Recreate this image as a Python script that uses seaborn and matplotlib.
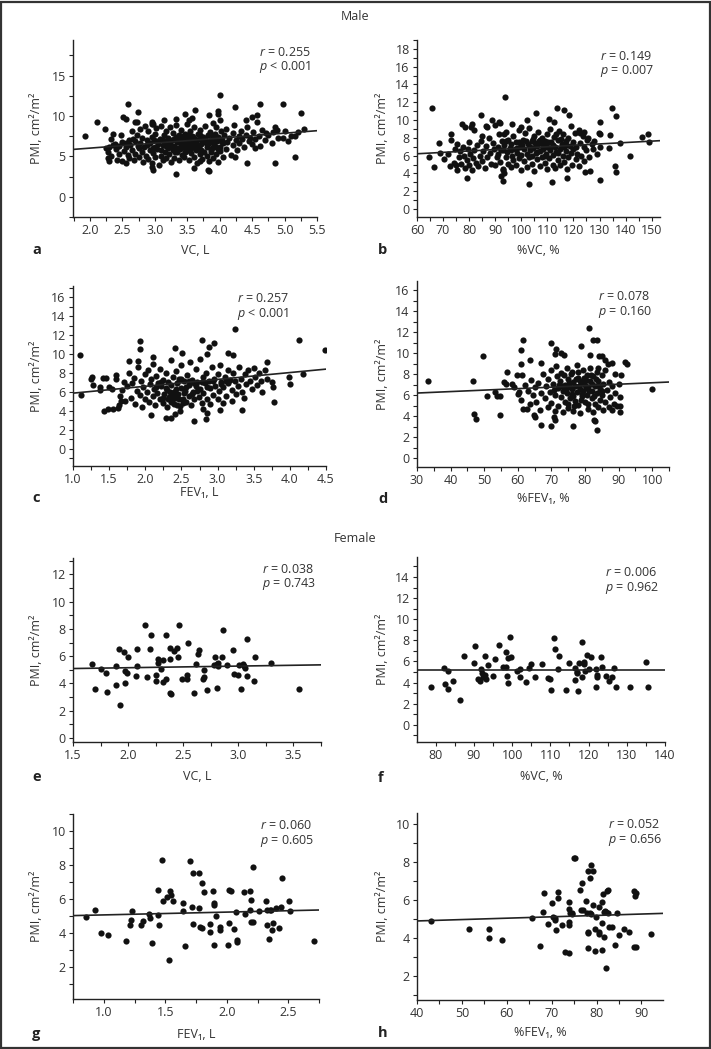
import pandas as pd
import matplotlib.pyplot as plt
import seaborn as sns
from matplotlib.patches import Rectangle
from matplotlib.ticker import MultipleLocator

sns.set_style("ticks")
plt.rcParams['font.family'] = ['Open Sans', 'DejaVu Sans']
plt.rcParams['mathtext.fontset'] = 'custom'
plt.rcParams['mathtext.it'] = 'Open Sans:italic'
plt.rcParams['mathtext.rm'] = 'Open Sans'

# ---- data: (x, PMI) ----
# Male, VC (L)
male_vc = [
    (1.92, 7.48), (2.11, 9.21), (2.24, 8.43), (2.58, 11.49), (2.51, 9.83), (2.55, 9.63), (2.74, 10.5),
    (2.70, 9.3), (2.73, 9.3), (2.95, 9.2), (2.97, 9.0), (3.14, 9.55), (3.33, 9.67), (3.46, 10.2),
    (3.57, 9.75), (3.52, 9.55), (3.62, 10.74), (3.83, 10.17), (4.0, 12.56), (3.98, 10.58), (3.97, 10.2),
    (4.24, 11.07), (4.62, 11.49), (4.98, 11.49), (5.26, 10.41), (4.41, 9.55), (4.5, 9.83), (4.57, 10.17),
    (5.3, 8.43), (5.16, 7.56), (5.06, 6.86), (5.16, 4.87), (4.86, 4.13), (4.42, 4.13), (4.55, 6.03),
    (3.33, 2.85), (3.82, 3.35), (3.84, 3.14), (2.97, 3.35), (2.95, 3.7), (3.6, 3.6), (3.69, 4.38),
    (4.24, 4.87), (2.28, 4.79), (2.30, 4.46), (4.82, 8.0), (4.98, 7.27), (4.89, 8.27), (4.72, 7.9),
    (2.25, 6.0), (2.28, 5.5), (2.3, 6.2), (2.32, 5.1), (2.33, 7.2), (2.35, 7.8), (2.38, 6.5), (2.4, 5.9),
    (2.42, 4.6), (2.45, 6.3), (2.45, 5.3), (2.48, 7.6), (2.5, 4.4), (2.5, 6.8), (2.52, 5.7), (2.55, 4.2),
    (2.55, 6.1), (2.58, 5.2), (2.6, 7.0), (2.6, 4.8), (2.62, 6.4), (2.65, 5.8), (2.65, 8.2), (2.68, 4.5),
    (2.7, 6.9), (2.7, 5.3), (2.72, 7.6), (2.75, 6.0), (2.75, 4.9), (2.78, 8.4), (2.78, 6.6), (2.8, 5.6),
    (2.8, 7.3), (2.82, 4.3), (2.84, 6.2), (2.85, 8.8), (2.86, 5.1), (2.88, 7.0), (2.88, 6.4), (2.9, 4.7),
    (2.9, 8.1), (2.92, 5.8), (2.93, 6.6), (2.95, 7.4), (2.95, 4.2), (2.96, 9.0), (2.98, 5.4), (3.0, 6.2),
    (3.0, 7.8), (3.0, 4.9), (3.02, 8.5), (3.04, 5.9), (3.05, 6.9), (3.06, 3.9), (3.08, 7.2), (3.1, 5.1),
    (3.1, 8.8), (3.12, 6.4), (3.12, 4.5), (3.14, 7.6), (3.15, 5.6), (3.16, 6.8), (3.18, 8.2), (3.18, 4.8),
    (3.2, 6.0), (3.2, 7.3), (3.22, 5.3), (3.23, 8.6), (3.24, 6.6), (3.25, 4.3), (3.26, 7.0), (3.28, 5.8),
    (3.28, 7.9), (3.3, 6.3), (3.3, 4.8), (3.32, 7.4), (3.33, 8.9), (3.34, 5.5), (3.35, 6.8), (3.36, 6.0),
    (3.37, 4.6), (3.38, 7.6), (3.4, 6.5), (3.4, 8.3), (3.42, 5.2), (3.43, 7.1), (3.44, 6.2), (3.45, 4.9),
    (3.46, 7.8), (3.47, 6.7), (3.48, 5.7), (3.5, 7.3), (3.5, 9.0), (3.5, 6.0), (3.52, 4.5), (3.53, 7.0),
    (3.54, 6.4), (3.55, 8.1), (3.56, 5.4), (3.57, 7.5), (3.58, 6.8), (3.6, 4.9), (3.6, 6.2), (3.61, 8.6),
    (3.62, 7.2), (3.63, 5.8), (3.64, 6.6), (3.65, 4.2), (3.66, 7.8), (3.68, 6.0), (3.69, 5.3), (3.7, 7.1),
    (3.7, 8.3), (3.72, 6.5), (3.73, 4.7), (3.75, 7.4), (3.76, 5.6), (3.77, 6.9), (3.78, 8.8), (3.8, 6.2),
    (3.8, 5.0), (3.82, 7.6), (3.83, 4.4), (3.84, 6.7), (3.85, 8.0), (3.86, 5.5), (3.88, 7.2), (3.88, 6.0),
    (3.9, 9.1), (3.9, 4.8), (3.92, 6.5), (3.93, 7.8), (3.94, 5.3), (3.95, 8.6), (3.96, 6.9), (3.97, 4.3),
    (3.98, 7.4), (4.0, 6.2), (4.0, 9.5), (4.0, 5.7), (4.02, 8.1), (4.03, 7.0), (4.05, 4.9), (4.05, 6.6),
    (4.07, 7.7), (4.1, 5.9), (4.1, 8.4), (4.12, 6.8), (4.15, 7.3), (4.17, 5.2), (4.2, 7.9), (4.2, 6.4),
    (4.22, 8.9), (4.25, 7.0), (4.27, 5.8), (4.3, 7.5), (4.3, 6.6), (4.33, 8.2), (4.35, 7.1), (4.38, 6.1),
    (4.4, 7.7), (4.42, 8.6), (4.45, 6.9), (4.47, 7.3), (4.5, 6.5), (4.52, 8.0), (4.55, 7.2), (4.58, 9.2),
    (4.6, 7.5), (4.62, 6.3), (4.65, 8.3), (4.7, 7.0), (4.75, 7.6), (4.8, 6.6), (4.85, 8.6), (4.9, 7.3),
    (5.0, 8.2), (5.1, 7.5), (5.2, 8.0), (3.21, 6.9), (3.27, 6.1), (3.29, 7.2), (3.31, 5.6), (3.36, 7.3),
    (3.39, 5.9), (3.41, 6.9), (3.44, 7.5), (3.46, 5.5), (3.49, 6.5), (3.51, 7.7), (3.54, 5.9), (3.56, 6.9),
    (3.59, 7.4), (3.62, 6.0), (3.64, 7.0), (3.67, 6.3), (3.69, 7.6), (3.71, 5.8), (3.74, 6.8), (3.78, 7.2),
    (3.81, 6.5), (3.85, 6.9), (3.87, 5.8), (3.89, 7.5), (3.92, 7.0), (3.95, 6.2), (3.97, 5.9), (4.01, 7.2),
    (4.04, 6.8), (3.05, 6.5), (3.09, 5.8), (3.13, 7.0), (3.17, 6.3), (2.97, 6.0), (2.99, 7.0), (2.74, 6.3),
    (2.66, 7.1), (2.56, 6.6), (2.36, 6.4),
]

# Male, %VC
male_pvc = [
    (65.7, 11.34), (93.6, 12.58), (66.7, 4.67), (64.6, 5.9), (69.0, 6.28), (72.9, 8.46), (68.3, 7.4),
    (72.6, 4.79), (75.2, 4.41), (79.0, 3.47), (77.3, 9.58), (78.6, 9.2), (80.8, 9.17), (81.2, 9.54),
    (84.4, 10.52), (86.3, 9.28), (86.9, 9.2), (88.8, 9.95), (91.4, 9.77), (92.0, 9.65), (93.3, 8.46),
    (92.4, 3.74), (93.3, 4.04), (93.1, 4.41), (93.0, 3.18), (102.9, 2.8), (111.8, 3.06), (117.6, 3.51),
    (105.8, 10.78), (113.7, 11.34), (116.3, 11.08), (118.2, 10.52), (110.5, 10.1), (112.5, 9.73),
    (102.2, 10.03), (96.5, 9.58), (99.7, 9.2), (130.3, 9.77), (134.8, 11.34), (136.2, 10.4), (129.7, 8.53),
    (130.1, 8.46), (134.2, 8.27), (141.8, 5.98), (146.3, 8.04), (148.7, 8.42), (149.1, 7.48), (138.0, 7.41),
    (133.5, 6.85), (136.1, 4.86), (136.3, 4.11), (130.1, 3.21), (124.6, 4.11), (126.5, 4.22), (125.2, 7.78),
    (122.7, 8.53), (124.0, 8.61),
    (70.5, 5.6), (72, 6.2), (73, 7.8), (74, 5.2), (74.5, 6.8), (75, 4.9), (75.5, 7.3), (76, 5.8), (76.5, 6.5),
    (77, 5.1), (77.5, 7.0), (78, 6.0), (78.5, 4.6), (79, 5.5), (79.5, 6.7), (80, 5.0), (80, 7.5),
    (80.5, 6.2), (81, 4.4), (81.5, 5.7), (82, 8.9), (82, 6.6), (82.5, 5.2), (83, 7.2), (83.5, 4.8), (84, 6.0),
    (84.5, 7.6), (85, 5.4), (85, 8.2), (85.5, 6.5), (86, 4.6), (86.5, 7.1), (87, 5.9), (87.5, 8.0), (88, 6.3),
    (88.5, 5.1), (89, 7.4), (89.5, 6.8), (90, 4.9), (90, 9.4), (90.5, 5.8), (91, 7.0), (91, 6.2), (91.5, 8.4),
    (92, 5.3), (92.5, 7.6), (93, 6.6), (93, 4.5), (93.5, 7.2), (94, 5.9), (94, 8.7), (94.5, 6.4), (95, 5.1),
    (95, 7.8), (95.5, 6.9), (96, 4.7), (96, 7.3), (96.5, 6.0), (97, 8.2), (97, 5.5), (97.5, 6.7), (98, 7.5),
    (98, 4.9), (98.5, 6.3), (99, 8.9), (99, 5.7), (99.5, 7.0), (100, 6.1), (100, 4.4), (100.5, 7.8),
    (101, 5.4), (101, 6.8), (101.5, 8.5), (102, 6.2), (102, 4.7), (102.5, 7.3), (103, 5.8), (103, 9.1),
    (103.5, 6.6), (104, 7.6), (104, 5.1), (104.5, 6.9), (105, 8.2), (105, 4.3), (105.5, 6.3), (106, 7.1),
    (106, 5.6), (106.5, 8.7), (107, 6.5), (107, 4.8), (107.5, 7.4), (108, 5.9), (108, 8.0), (108.5, 6.7),
    (109, 7.7), (109, 5.2), (109.5, 6.2), (110, 8.4), (110, 4.5), (110, 7.0), (110.5, 5.7), (111, 6.6),
    (111, 9.0), (111.5, 7.5), (112, 5.0), (112, 6.1), (112.5, 8.1), (113, 7.0), (113, 4.6), (113.5, 6.4),
    (114, 7.8), (114, 5.5), (114.5, 8.8), (115, 6.8), (115, 4.9), (115.5, 7.3), (116, 6.0), (116, 8.4),
    (116.5, 5.3), (117, 7.6), (117, 6.5), (117.5, 4.5), (118, 8.0), (118, 5.8), (118.5, 7.1), (119, 6.3),
    (119, 9.3), (119.5, 5.0), (120, 7.5), (120, 6.7), (120.5, 8.6), (121, 5.6), (121, 7.0), (121.5, 6.2),
    (122, 8.9), (122, 4.8), (122.5, 7.4), (123, 6.0), (123.5, 8.2), (124, 5.4), (124, 7.0), (125, 6.6),
    (125.5, 8.0), (126, 5.9), (127, 7.3), (127.5, 6.8), (128, 7.7), (129, 6.2), (130, 7.0),
    (100.2, 7.2), (101.8, 7.7), (103.2, 7.0), (104.2, 6.0), (105.2, 7.4), (106.2, 6.4), (107.2, 7.8),
    (108.2, 6.9), (109.2, 6.0), (110.2, 7.5), (111.2, 6.9), (112.2, 7.2), (113.2, 8.4), (114.2, 6.3),
    (115.2, 7.9), (116.2, 7.0), (117.2, 7.2), (92.2, 6.6), (94.2, 7.6), (96.2, 6.6), (98.2, 6.9), (99.2, 7.5),
    (104.6, 7.9), (106.6, 7.6), (108.6, 7.2),
]

# Male, FEV1 (L)
male_fev1 = [
    (1.10, 9.89), (1.11, 5.72), (3.24, 12.64), (4.12, 11.48), (4.49, 10.42), (1.93, 11.41), (1.92, 10.52),
    (2.41, 10.59), (2.79, 11.48), (2.88, 10.77), (2.95, 11.12), (2.85, 9.96), (3.15, 10.06), (3.21, 9.89),
    (1.78, 9.29), (1.9, 9.25), (2.11, 9.64), (2.51, 10.06), (3.69, 9.11), (4.0, 6.81), (3.99, 7.59),
    (4.18, 7.94), (3.78, 4.94), (3.75, 7.06), (3.77, 6.53), (3.34, 4.06), (3.03, 4.06), (2.85, 3.81),
    (2.8, 4.16), (2.67, 2.89), (2.84, 3.10), (2.48, 3.95), (2.41, 3.67), (2.29, 3.24), (2.36, 3.24),
    (2.08, 3.6), (1.43, 3.95), (1.48, 4.16), (1.55, 4.16), (1.62, 4.3), (1.64, 4.66), (1.67, 5.01),
    (1.25, 7.41), (1.26, 7.59), (1.41, 7.48), (1.45, 7.48), (1.37, 6.53), (1.37, 6.17), (1.59, 7.77),
    (1.59, 7.41), (1.50, 6.49), (1.54, 6.35), (1.28, 6.7),
    (1.65, 5.6), (1.68, 6.2), (1.7, 7.0), (1.72, 5.0), (1.75, 6.6), (1.78, 8.0), (1.8, 5.4), (1.82, 6.9),
    (1.85, 7.5), (1.86, 4.7), (1.88, 6.1), (1.9, 8.6), (1.92, 5.7), (1.94, 7.2), (1.95, 4.4), (1.97, 6.5),
    (2.0, 7.9), (2.0, 5.2), (2.02, 6.0), (2.04, 8.3), (2.05, 4.9), (2.06, 6.8), (2.08, 7.4), (2.1, 5.6),
    (2.1, 9.0), (2.12, 6.3), (2.14, 4.6), (2.15, 7.7), (2.16, 5.9), (2.18, 6.9), (2.2, 8.4), (2.2, 5.3),
    (2.22, 6.6), (2.24, 7.3), (2.25, 4.8), (2.26, 5.8), (2.28, 8.0), (2.3, 6.2), (2.3, 4.4), (2.32, 7.0),
    (2.33, 5.5), (2.35, 9.4), (2.36, 6.7), (2.37, 5.0), (2.38, 7.6), (2.4, 6.0), (2.4, 4.7), (2.42, 8.2),
    (2.43, 5.4), (2.44, 6.9), (2.45, 5.8), (2.46, 7.4), (2.48, 4.5), (2.5, 6.4), (2.5, 8.8), (2.52, 5.3),
    (2.53, 7.1), (2.55, 6.1), (2.56, 4.9), (2.58, 7.8), (2.6, 5.6), (2.6, 6.7), (2.62, 9.2), (2.63, 4.6),
    (2.65, 7.3), (2.66, 6.0), (2.68, 5.2), (2.7, 8.4), (2.7, 6.6), (2.72, 7.0), (2.74, 5.5), (2.75, 9.5),
    (2.76, 6.3), (2.78, 4.8), (2.8, 7.6), (2.8, 5.9), (2.82, 6.9), (2.84, 8.0), (2.86, 5.3), (2.88, 7.2),
    (2.9, 6.4), (2.9, 4.7), (2.92, 8.6), (2.94, 5.7), (2.95, 7.4), (2.97, 6.6), (3.0, 7.9), (3.0, 5.2),
    (3.02, 6.1), (3.04, 8.8), (3.05, 7.0), (3.07, 4.8), (3.08, 6.5), (3.1, 7.6), (3.12, 5.6), (3.14, 8.3),
    (3.15, 6.9), (3.17, 7.3), (3.2, 6.2), (3.2, 5.0), (3.22, 8.0), (3.24, 7.1), (3.26, 5.8), (3.28, 6.6),
    (3.3, 8.6), (3.32, 7.4), (3.34, 6.0), (3.36, 5.4), (3.38, 7.9), (3.4, 6.8), (3.42, 8.3), (3.45, 7.2),
    (3.48, 6.3), (3.5, 8.5), (3.52, 7.6), (3.55, 6.7), (3.58, 8.0), (3.6, 7.1), (3.62, 6.0), (3.65, 8.3),
    (3.68, 7.4), (2.15, 6.5), (2.22, 7.0), (2.28, 6.4), (2.34, 6.0), (2.38, 5.6), (2.42, 6.3), (2.46, 5.2),
    (2.5, 7.4), (2.54, 5.9), (2.57, 6.5), (2.61, 7.2), (2.64, 5.8), (2.68, 6.9), (2.72, 6.1), (2.78, 7.0),
    (2.85, 6.5), (2.93, 7.1), (3.05, 6.8), (3.12, 7.2), (2.25, 5.4), (2.32, 5.2), (2.36, 4.9), (2.44, 4.6),
    (2.52, 4.8),
]

# Male, %FEV1
male_pfev1 = [
    (33.4, 7.36), (46.7, 7.36), (49.5, 9.71), (47.1, 4.19), (47.7, 3.78), (50.9, 5.97), (53.7, 5.97),
    (54.7, 4.09), (56.8, 8.22), (61.0, 10.35), (61.5, 11.3), (63.5, 9.39), (66.9, 9.11), (61.0, 9.01),
    (59.8, 7.9), (61.3, 7.9), (69.9, 10.98), (71.5, 10.44), (71.2, 9.97), (72.9, 10.06), (73.7, 9.81),
    (78.9, 10.66), (81.2, 12.44), (82.3, 11.3), (83.6, 11.3), (81.6, 9.87), (84.1, 9.71), (85.1, 9.71),
    (86.0, 9.39), (86.7, 9.01), (88.0, 9.08), (91.8, 9.17), (92.5, 9.01), (90.7, 7.9), (100.0, 6.63),
    (90.3, 4.95), (90.3, 4.41), (83.6, 2.73), (82.6, 3.68), (83.1, 3.55), (76.4, 3.04), (70.7, 3.93),
    (71.2, 3.62), (69.9, 3.04), (67.0, 3.2), (65.2, 3.93), (64.8, 4.09), (61.6, 4.73), (62.8, 4.73),
    (54.7, 5.9), (53.1, 6.32), (56.0, 7.27), (56.6, 7.05), (58.3, 7.05), (58.8, 6.79), (60.3, 6.28),
    (60, 6.1), (61, 5.6), (62, 7.0), (63, 6.4), (63.5, 5.2), (64, 7.5), (64.5, 6.0), (65, 6.8), (65.5, 5.4),
    (66, 7.2), (66.5, 4.6), (67, 6.2), (67.5, 8.0), (68, 5.7), (68.5, 6.9), (69, 4.9), (69, 7.6), (69.5, 6.3),
    (70, 8.4), (70, 5.3), (70.5, 7.1), (71, 6.0), (71, 4.5), (71.5, 8.8), (72, 6.7), (72, 5.0), (72.5, 7.4),
    (73, 5.8), (73, 8.1), (73.5, 6.4), (73.5, 4.4), (74, 7.0), (74, 5.4), (74.5, 8.6), (74.5, 6.2), (75, 7.6),
    (75, 4.8), (75.5, 6.8), (75.5, 5.7), (76, 8.2), (76, 6.1), (76.5, 7.3), (76.5, 4.5), (77, 5.5), (77, 6.9),
    (77.5, 8.9), (77.5, 6.3), (78, 7.7), (78, 5.1), (78.5, 6.6), (78.5, 4.3), (79, 7.2), (79, 5.9),
    (79.5, 8.4), (79.5, 6.4), (80, 7.0), (80, 5.4), (80.5, 7.9), (80.5, 6.0), (81, 4.7), (81, 6.8),
    (81.5, 8.6), (81.5, 7.4), (82, 5.7), (82, 6.4), (82.5, 7.8), (82.5, 4.4), (83, 6.9), (83, 5.2),
    (83.5, 8.2), (83.5, 6.2), (84, 7.4), (84, 4.9), (84.5, 6.6), (84.5, 5.6), (85, 7.9), (85, 6.0),
    (85.5, 4.6), (85.5, 7.1), (86, 5.4), (86, 8.4), (86.5, 6.5), (87, 4.9), (87, 7.3), (87.5, 5.8), (88, 6.9),
    (88, 4.6), (88.5, 5.2), (89, 6.2), (89, 8.0), (89.5, 5.0), (90, 7.1), (90.5, 5.8),
    (72.2, 7.0), (73.2, 6.9), (74.2, 6.6), (75.2, 7.2), (76.2, 6.6), (77.2, 7.6), (78.2, 6.9), (79.2, 6.1),
    (80.2, 7.5), (81.2, 6.4), (82.2, 7.1), (83.2, 7.6), (84.2, 6.9), (85.2, 6.4), (74.8, 5.2), (76.8, 5.0),
    (78.8, 5.6), (80.8, 5.2), (82.8, 5.9), (70.8, 6.5), (71.8, 7.8), (73.8, 7.9), (75.8, 8.0), (77.8, 8.2),
    (79.8, 7.7), (81.8, 7.9), (83.8, 8.6), (76.4, 5.9), (78.4, 7.4), (80.4, 6.7),
]

# Female, VC (L)
female_vc = [
    (1.67, 5.41), (1.70, 3.57), (1.75, 5.09), (1.80, 4.79), (1.81, 3.39), (1.89, 5.31), (1.89, 3.91),
    (1.92, 6.56), (1.93, 2.41), (1.96, 6.27), (1.97, 4.94), (1.97, 4.03), (2.0, 5.93), (1.99, 4.75),
    (2.08, 6.49), (2.08, 5.29), (2.07, 4.55), (2.15, 8.29), (2.17, 4.45), (2.20, 6.52), (2.21, 7.55),
    (2.25, 4.6), (2.25, 4.2), (2.27, 5.78), (2.27, 5.53), (2.30, 5.09), (2.32, 5.68), (2.32, 4.11),
    (2.34, 7.52), (2.34, 4.35), (2.38, 5.78), (2.38, 6.59), (2.38, 3.32), (2.39, 3.22), (2.42, 6.39),
    (2.44, 6.59), (2.45, 5.9), (2.46, 8.26), (2.49, 4.3), (2.53, 4.62), (2.53, 4.33), (2.54, 6.96),
    (2.60, 3.32), (2.62, 5.43), (2.63, 6.15), (2.64, 6.47), (2.68, 4.35), (2.69, 4.5), (2.69, 4.99),
    (2.72, 3.52), (2.78, 5.34), (2.79, 5.95), (2.81, 5.43), (2.81, 3.64), (2.82, 5.24), (2.82, 5.48),
    (2.85, 5.95), (2.86, 7.92), (2.90, 5.34), (2.95, 6.42), (2.96, 4.72), (3.00, 4.65), (3.01, 5.38),
    (3.02, 3.59), (3.04, 5.41), (3.05, 5.29), (3.06, 5.11), (3.08, 4.55), (3.08, 7.28), (3.14, 4.2),
    (3.15, 5.90), (3.30, 5.53), (3.55, 3.59),
]

# Female, %VC
female_pvc = [
    (78.7, 3.55), (82.1, 5.35), (82.3, 3.87), (83.1, 5.06), (83.3, 3.40), (84.4, 4.18), (86.3, 2.36),
    (87.3, 6.48), (90.1, 5.88), (90.4, 7.48), (91.1, 4.31), (91.5, 4.12), (91.9, 5.25), (92.2, 4.87),
    (92.5, 4.5), (92.8, 6.51), (93.1, 4.37), (92.8, 4.72), (93.7, 5.63), (95.0, 4.59), (95.5, 6.26),
    (96.6, 7.52), (97.5, 5.50), (98.3, 5.50), (98.5, 6.89), (98.7, 4.65), (99.0, 6.35), (99.0, 3.99),
    (99.4, 8.27), (99.7, 6.45), (101.3, 5.06), (102.0, 5.25), (102.0, 4.56), (103.7, 4.06), (104.3, 5.35),
    (105.0, 5.72), (105.9, 4.50), (107.9, 5.72), (109.5, 4.40), (109.9, 4.31), (110.1, 3.30), (110.9, 8.24),
    (111.3, 7.2), (111.9, 5.25), (112.3, 6.51), (114.2, 3.27), (115.0, 5.82), (116.4, 5.35), (116.5, 4.25),
    (116.9, 5.03), (116.9, 4.87), (117.3, 3.18), (117.5, 5.88), (118.3, 4.56), (118.4, 7.86), (118.8, 5.97),
    (118.9, 5.75), (119.1, 5.09), (119.6, 6.6), (120.1, 5.25), (120.6, 6.45), (121.9, 3.62), (122.0, 5.25),
    (122.1, 4.72), (122.2, 4.50), (123.2, 6.38), (123.6, 5.47), (124.6, 4.62), (125.4, 4.12), (126.2, 4.50),
    (126.6, 5.35), (127.2, 3.55), (130.8, 3.55), (134.9, 5.91), (135.5, 3.55),
]

# Female, FEV1 (L)
female_fev1 = [
    (0.856, 4.93), (0.924, 5.36), (0.978, 4.00), (1.035, 3.87), (1.177, 3.53), (1.209, 4.48), (1.217, 4.77),
    (1.228, 5.28), (1.304, 4.44), (1.321, 4.67), (1.367, 5.08), (1.378, 4.89), (1.389, 3.38), (1.438, 6.54),
    (1.443, 5.05), (1.449, 4.46), (1.470, 8.27), (1.481, 5.89), (1.516, 6.13), (1.530, 2.41), (1.538, 6.46),
    (1.549, 6.22), (1.565, 5.87), (1.639, 5.75), (1.639, 5.26), (1.658, 3.20), (1.698, 8.23), (1.717, 5.50),
    (1.726, 7.52), (1.769, 7.52), (1.728, 4.50), (1.769, 5.48), (1.777, 4.34), (1.799, 4.28), (1.796, 6.93),
    (1.810, 6.38), (1.859, 4.53), (1.859, 4.04), (1.889, 6.48), (1.894, 5.75), (1.897, 5.65), (1.897, 3.28),
    (1.910, 4.97), (1.940, 4.32), (1.940, 4.14), (2.011, 3.30), (2.016, 6.54), (2.030, 6.48), (2.019, 4.57),
    (2.060, 4.22), (2.073, 5.24), (2.079, 3.55), (2.084, 3.47), (2.141, 6.40), (2.149, 5.12), (2.188, 6.44),
    (2.190, 5.36), (2.196, 4.61), (2.209, 4.65), (2.198, 5.95), (2.212, 7.87), (2.258, 5.28), (2.321, 5.89),
    (2.329, 5.36), (2.348, 5.36), (2.356, 5.36), (2.329, 4.46), (2.340, 3.63), (2.364, 4.18), (2.378, 4.57),
    (2.397, 5.44), (2.424, 4.30), (2.440, 5.50), (2.446, 7.23), (2.503, 5.87), (2.514, 5.30), (2.712, 3.53),
]

# Female, %FEV1
female_pfev1 = [
    (43.1, 4.91), (51.6, 4.49), (56.1, 4.47), (56.0, 4.0), (58.9, 3.88), (65.6, 5.05), (67.5, 3.58),
    (68.0, 5.35), (68.3, 6.39), (69.1, 4.74), (70.1, 5.86), (70.3, 5.12), (70.7, 5.04), (70.7, 4.95),
    (70.9, 4.42), (71.3, 6.44), (71.4, 6.11), (72.3, 4.67), (72.9, 3.28), (73.8, 5.89), (73.8, 5.51),
    (73.8, 4.86), (73.9, 4.67), (73.9, 3.21), (74.1, 5.33), (74.5, 5.26), (74.6, 5.33), (74.9, 8.23),
    (75.2, 8.23), (76.2, 6.56), (76.5, 5.47), (76.9, 5.47), (76.7, 6.91), (77.6, 5.95), (77.9, 5.33),
    (78.0, 3.49), (78.0, 7.54), (79.1, 7.54), (78.1, 4.28), (78.2, 4.33), (78.5, 7.19), (78.7, 7.84),
    (78.5, 5.30), (78.8, 5.26), (79.3, 5.72), (79.6, 3.32), (79.7, 4.47), (79.9, 5.11), (80.5, 5.63),
    (80.5, 4.32), (80.6, 4.19), (81.1, 4.77), (81.1, 3.37), (81.2, 5.88), (81.4, 6.33), (81.6, 5.37),
    (81.8, 5.44), (82.1, 5.37), (81.7, 4.07), (82.1, 2.40), (82.3, 6.47), (82.5, 6.51), (82.7, 4.60),
    (83.4, 4.56), (82.5, 5.30), (84.2, 3.65), (84.6, 5.30), (84.9, 4.16), (86.1, 4.47), (87.2, 4.30),
    (88.4, 6.47), (88.7, 6.39), (88.6, 6.23), (88.4, 3.54), (88.7, 3.54), (92.2, 4.21),
]

# fitted lines as drawn in the figure: (intercept, slope)
fit_lines = [(4.79, 0.616), (5.26, 0.0158), (5.14, 0.726), (5.80, 0.014),
             (4.91, 0.12), (5.16, 0.0), (4.89, 0.165), (4.61, 0.0073)]
r_values = ['0.255', '0.149', '0.257', '0.078', '0.038', '0.006', '0.060', '0.052']
p_values = ['< 0.001', '= 0.007', '< 0.001', '= 0.160', '= 0.743', '= 0.962', '= 0.605', '= 0.656']
x_labels = ['VC, L', '%VC, %', 'FEV\u2081, L', '%FEV\u2081, %',
            'VC, L', '%VC, %', 'FEV\u2081, L', '%FEV\u2081, %']
panel_letters = list('abcdefgh')
panel_data = [male_vc, male_pvc, male_fev1, male_pfev1,
              female_vc, female_pvc, female_fev1, female_pfev1]

# ---- layout (pixels of a 711x1049 canvas) ----
W, H = 711, 1049
layout = [
    # box (l, t, r, b), xlim, ylim, x major/minor, y major/minor, stat text pos (axes), xlabel y, letter y
    dict(box=(73, 40, 317, 217), xlim=(1.74, 5.5), ylim=(-2.5, 19.4), xt=(0.5, 0.25), yt=(5, 2.5), txt=(0.762, 0.927), xl=251, ly=250),
    dict(box=(417, 40, 660, 217), xlim=(60, 153.2), ylim=(-0.9, 19.0), xt=(10, 5), yt=(2, 1), txt=(0.753, 0.906), xl=251, ly=250),
    dict(box=(73, 286, 326, 466), xlim=(1.0, 4.5), ylim=(-1.84, 17.2), xt=(0.5, 0.25), yt=(2, 1), txt=(0.648, 0.928), xl=492, ly=498),
    dict(box=(417, 281, 669, 467), xlim=(30, 105), ylim=(-0.83, 16.9), xt=(10, 5), yt=(2, 1), txt=(0.72, 0.914), xl=499, ly=499),
    dict(box=(73, 558, 321, 742), xlim=(1.5, 3.75), ylim=(-0.3, 13.2), xt=(0.5, 0.25), yt=(2, 1), txt=(0.761, 0.94), xl=777, ly=777),
    dict(box=(417, 557, 665, 742), xlim=(75.1, 140), ylim=(-1.64, 15.9), xt=(10, 5), yt=(2, 1), txt=(0.758, 0.916), xl=777, ly=778),
    dict(box=(73, 814, 319, 999), xlim=(0.747, 2.75), ylim=(0.1, 11.0), xt=(0.5, 0.25), yt=(2, 1), txt=(0.76, 0.937), xl=1034, ly=1034),
    dict(box=(417, 813, 663, 1000), xlim=(40, 94.8), ylim=(0.73, 10.6), xt=(10, 5), yt=(2, 1), txt=(0.778, 0.937), xl=1033, ly=1033),
]

ink = '#222222'
text_col = '#333333'
fs = 9

fig = plt.figure(figsize=(W / 100, H / 100), dpi=100)

for i, (pts, lay) in enumerate(zip(panel_data, layout)):
    l, t, r, b = lay['box']
    ax = fig.add_axes([l / W, 1 - b / H, (r - l) / W, (b - t) / H])
    df = pd.DataFrame(pts, columns=['x', 'pmi'])
    sns.scatterplot(data=df, x='x', y='pmi', ax=ax, color='#111111', s=20, linewidth=0, zorder=3)

    ax.set_xlim(*lay['xlim'])
    ax.set_ylim(*lay['ylim'])
    b0, slope = fit_lines[i]
    xs = list(lay['xlim'])
    sns.lineplot(x=xs, y=[b0 + slope * v for v in xs], ax=ax, color='#222222', lw=1.2, zorder=4)

    ax.xaxis.set_major_locator(MultipleLocator(lay['xt'][0]))
    ax.xaxis.set_minor_locator(MultipleLocator(lay['xt'][1]))
    ax.yaxis.set_major_locator(MultipleLocator(lay['yt'][0]))
    ax.yaxis.set_minor_locator(MultipleLocator(lay['yt'][1]))
    if lay['xt'][0] < 1:
        ax.xaxis.set_major_formatter(plt.FormatStrFormatter('%.1f'))
    ax.yaxis.set_major_formatter(plt.FormatStrFormatter('%d'))

    sns.despine(ax=ax)
    for sp in ('left', 'bottom'):
        ax.spines[sp].set_color(ink)
        ax.spines[sp].set_linewidth(1.0)
    ax.tick_params(which='major', direction='out', length=3.2, width=0.8, color=ink,
                   labelsize=fs, labelcolor=text_col, pad=2)
    ax.tick_params(which='minor', direction='out', length=2.6, width=0.8, color=ink)

    ax.set_xlabel(x_labels[i], fontsize=fs, color=text_col)
    ax.set_ylabel('PMI, cm\u00b2/m\u00b2', fontsize=fs, color=text_col)
    ax.xaxis.label.set_va('center')
    ax.yaxis.label.set_va('center')
    ax.xaxis.set_label_coords(((l + r) / 2) / W, 1 - lay['xl'] / H, transform=fig.transFigure)
    ylab_x = 37 if l < 200 else 383
    ax.yaxis.set_label_coords(ylab_x / W, 1 - ((t + b) / 2) / H, transform=fig.transFigure)

    tx, ty = lay['txt']
    ax.text(tx, ty, f'$r$ = {r_values[i]}', transform=ax.transAxes, fontsize=fs,
            color=text_col, va='center', ha='left')
    ax.text(tx, ty - 0.082, f'$p$ {p_values[i]}', transform=ax.transAxes, fontsize=fs,
            color=text_col, va='center', ha='left')

    lx = 32 if l < 200 else 378
    fig.text(lx / W, 1 - lay['ly'] / H, panel_letters[i], fontsize=10.5, fontweight='bold',
             color='#222222', ha='left', va='center')

fig.text(355 / W, 1 - 17 / H, 'Male', fontsize=fs, color=text_col, ha='center', va='center')
fig.text(355 / W, 1 - 538 / H, 'Female', fontsize=fs, color=text_col, ha='center', va='center')

fig.patches.append(Rectangle((1 / W, 1 / H), (W - 2.5) / W, (H - 2.5) / H, transform=fig.transFigure,
                             fill=False, edgecolor='#333333', linewidth=1.6))

fig.savefig('out.png', dpi=100)
